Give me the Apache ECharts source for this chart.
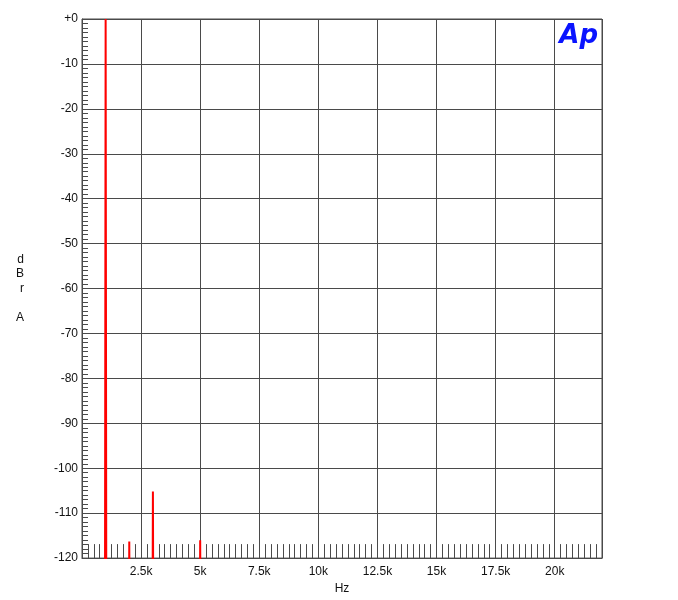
<!DOCTYPE html>
<html>
<head>
<meta charset="utf-8">
<script src="https://cdn.jsdelivr.net/npm/echarts@6/dist/echarts.min.js"></script>
<style>
  html, body { margin: 0; padding: 0; background: #fff; }
  #chart { width: 678px; height: 600px; }
</style>
</head>
<body>
<div id="chart"></div>
<script>
// FFT spectrum, Hz vs dBr A (floor sits below -120, so it is clipped)
var freqs = [0, 970, 1000, 1030, 1980, 2000, 2020, 2980, 3000, 3020, 4980, 5000, 5020, 22000]
var levels = [-140, -140, 0, -140, -140, -116.3, -140, -140, -105.2, -140, -140, -116, -140, -140]
var xTicks = [2500, 5000, 7500, 10000, 12500, 15000, 17500, 20000]

var spectrum = freqs.map(function (f, i) { return [f, levels[i]] })

var chart = echarts.init(document.getElementById('chart'))
chart.setOption({
  animation: false,
  backgroundColor: '#fff',
  grid: {
    left: 82,
    right: 76,
    top: 19,
    bottom: 37,
    show: true,
    borderColor: '#4a4a4a',
    borderWidth: 1
  },
  xAxis: {
    type: 'value',
    min: 0,
    max: 22000,
    interval: 2500,
    name: 'Hz',
    nameLocation: 'middle',
    nameGap: 24,
    nameTextStyle: { fontFamily: 'Liberation Sans', fontSize: 12, color: '#111' },
    axisLine: { onZero: false, lineStyle: { color: '#4a4a4a' } },
    axisTick: { show: true, inside: true, length: 14, lineStyle: { color: '#4a4a4a' } },
    minorTick: { show: true, splitNumber: 10, length: 14, lineStyle: { color: '#4a4a4a' } },
    axisLabel: {
      fontFamily: 'Liberation Sans',
      fontSize: 12,
      color: '#111',
      margin: 8,
      showMaxLabel: false,
      formatter: function (v) {
        return xTicks.indexOf(v) >= 0 ? (v / 1000) + 'k' : ''
      }
    },
    splitLine: { show: true, lineStyle: { color: '#4a4a4a', width: 1 } }
  },
  yAxis: {
    type: 'value',
    min: -120,
    max: 0,
    interval: 10,
    name: 'd\nB\nr\n\nA',
    nameLocation: 'middle',
    nameRotate: 0,
    nameGap: 58,
    nameTextStyle: { fontFamily: 'Liberation Sans', fontSize: 12, color: '#111', lineHeight: 14.5 },
    axisLine: { show: true, onZero: false, lineStyle: { color: '#4a4a4a' } },
    axisTick: { show: true, inside: true, length: 6, lineStyle: { color: '#4a4a4a' } },
    minorTick: { show: true, splitNumber: 10, length: 6, lineStyle: { color: '#4a4a4a' } },
    axisLabel: {
      fontFamily: 'Liberation Sans',
      fontSize: 12,
      color: '#111',
      margin: 4,
      formatter: function (v) { return v === 0 ? '+0' : v }
    },
    splitLine: { show: true, lineStyle: { color: '#4a4a4a', width: 1 } }
  },
  graphic: [{
    type: 'text',
    right: 80,
    top: 23,
    style: {
      text: 'Ap',
      fill: '#0a14ff',
      font: 'italic bold 26px "DejaVu Sans"'
    }
  }],
  series: [{
    type: 'line',
    data: spectrum,
    showSymbol: false,
    clip: true,
    lineStyle: { color: '#ff0000', width: 2 }
  }]
})
</script>
</body>
</html>
